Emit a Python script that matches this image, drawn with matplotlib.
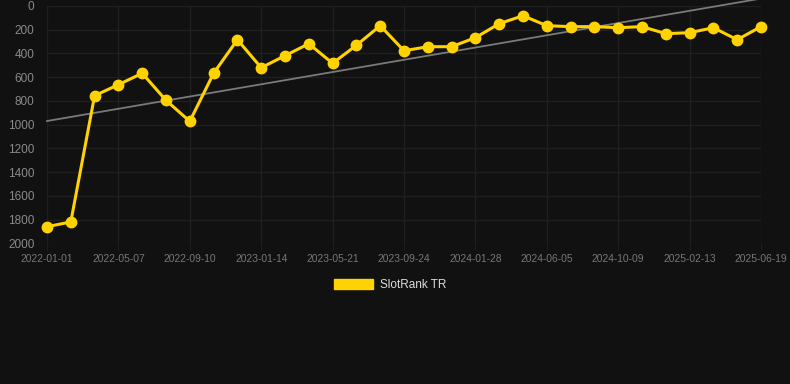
import numpy as np
import matplotlib
matplotlib.use("Agg")
from matplotlib import pyplot as plt
from matplotlib.patches import Patch

plt.rcParams['font.family'] = ['Liberation Sans', 'DejaVu Sans']

dates = ['2022-01-01', '2022-02-12', '2022-03-26', '2022-05-07', '2022-06-18',
         '2022-07-30', '2022-09-10', '2022-10-22', '2022-12-03', '2023-01-14',
         '2023-02-25', '2023-04-08', '2023-05-21', '2023-07-02', '2023-08-13',
         '2023-09-24', '2023-11-05', '2023-12-17', '2024-01-28', '2024-03-10',
         '2024-04-24', '2024-06-05', '2024-07-17', '2024-08-28', '2024-10-09',
         '2024-11-20', '2025-01-01', '2025-02-13', '2025-03-27', '2025-05-08',
         '2025-06-19']
rank = [1860, 1820, 756, 663, 567, 795, 972, 567, 284, 520,
        419, 318, 483, 331, 166, 377, 343, 343, 267, 149,
        82, 166, 174, 174, 183, 174, 233, 225, 183, 284, 174]
yticks = [0, 200, 400, 600, 800, 1000, 1200, 1400, 1600, 1800, 2000]

bg = '#111111'
gold = '#FFD200'

x = np.arange(len(rank))
# linear trend
k, b = np.polyfit(x, rank, 1)

fig = plt.figure(figsize=(7.9, 3.84), dpi=100, facecolor=bg)
ax = fig.add_axes([47/790, 1-243.3/384, 714/790, 237.3/384], facecolor=bg)

ax.plot(x, k*x + b, color='#7a7a7a', lw=1.3, clip_on=False, zorder=2)
ax.plot(x, rank, color=gold, lw=2.2, marker='o', ms=7.5, clip_on=False, zorder=3)

ax.set_xlim(0, len(rank)-1)
ax.set_ylim(2000, 0)
ax.set_yticks(yticks)
ax.set_yticklabels([str(v) for v in yticks], color='#8a8a8a', fontsize=8.5)
ax.set_xticks(x[::3])
ax.set_xticklabels(dates[::3], color='#777777', fontsize=7.4)
ax.tick_params(axis='both', length=5, color='#1e1e1e', pad=3)
ax.tick_params(axis='y', length=0, pad=9)
ax.grid(True, color='#1f1f1f', lw=1)
ax.set_axisbelow(True)
for s in ax.spines.values():
    s.set_visible(False)

leg = fig.legend(handles=[Patch(color=gold, label='SlotRank TR')],
                 loc='center', bbox_to_anchor=(390/790, 1-285/384), frameon=False,
                 fontsize=8.5, handlelength=3.3, handleheight=1.0, handletextpad=0.6)
for t in leg.get_texts():
    t.set_color('#dddddd')

fig.savefig('out.png', dpi=100, facecolor=bg)
